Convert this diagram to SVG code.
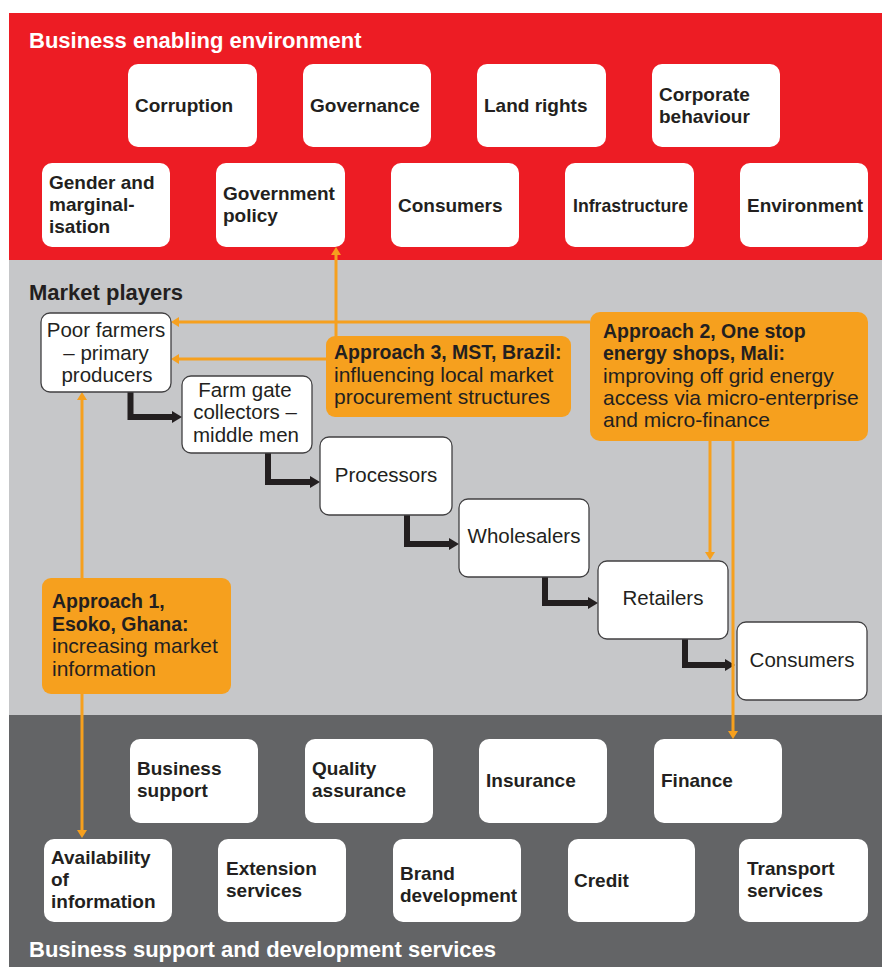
<svg xmlns="http://www.w3.org/2000/svg" width="882" height="967" viewBox="0 0 882 967">
<style>
.band-title{font-family:"Liberation Sans",Arial,sans-serif;font-weight:bold;font-size:22px}
.wbox{fill:#ffffff}
.sbox{fill:#ffffff;stroke:#414042;stroke-width:1.3}
.obox{fill:#f6a01e}
.bt{font-family:"Liberation Sans",Arial,sans-serif;font-weight:bold;font-size:19px;fill:#231f20}
.rt{font-family:"Liberation Sans",Arial,sans-serif;font-size:20.5px;fill:#231f20}
.ot{font-family:"Liberation Sans",Arial,sans-serif;font-size:21px;fill:#231f20}
.ob{font-family:"Liberation Sans",Arial,sans-serif;font-weight:bold;font-size:19.5px;fill:#231f20}
.ct{text-anchor:middle}
.blk{fill:none;stroke:#231f20;stroke-width:6}
.org{fill:none;stroke:#f6a01e;stroke-width:3}
</style>
<defs>
<marker id="ba" viewBox="0 0 10 12" markerWidth="10" markerHeight="12" refX="0" refY="6" orient="auto" markerUnits="userSpaceOnUse"><path d="M0,0 L10,6 L0,12 z" fill="#231f20"/></marker>
<marker id="oa" viewBox="0 0 8 10" markerWidth="8" markerHeight="10" refX="0" refY="5" orient="auto" markerUnits="userSpaceOnUse"><path d="M0,0 L8,5 L0,10 z" fill="#f6a01e"/></marker>
</defs>
<rect x="0" y="0" width="882" height="967" fill="#ffffff"/>
<rect x="9" y="13" width="873" height="247" fill="#ed1c24"/>
<rect x="9" y="260" width="873" height="455" fill="#c6c7c9"/>
<rect x="9" y="715" width="873" height="252" fill="#636466"/>
<text class="band-title" x="29" y="48" fill="#ffffff">Business enabling environment</text>
<text class="band-title" x="29" y="300" fill="#231f20">Market players</text>
<text class="band-title" x="29" y="957" fill="#ffffff">Business support and development services</text>

<g id="connectors">
<path class="blk" d="M130.5,392 V417 H172" marker-end="url(#ba)"/>
<path class="blk" d="M268,453 V482 H310" marker-end="url(#ba)"/>
<path class="blk" d="M407,515 V544 H449" marker-end="url(#ba)"/>
<path class="blk" d="M545,577 V603 H588" marker-end="url(#ba)"/>
<path class="blk" d="M685,639 V665 H725" marker-end="url(#ba)"/>
<path class="org" d="M590,322 H179" marker-end="url(#oa)"/>
<path class="org" d="M326,359 H179" marker-end="url(#oa)"/>
<path class="org" d="M336,336 V255" marker-end="url(#oa)"/>
<path class="org" d="M82,578 V400" marker-end="url(#oa)"/>
<path class="org" d="M82,694 V830" marker-end="url(#oa)"/>
<path class="org" d="M710,441 V552" marker-end="url(#oa)"/>
<path class="org" d="M733,441 V731" marker-end="url(#oa)"/>
</g>

<g id="corruption"><rect class="wbox" x="128" y="64" width="129" height="83" rx="10"/><text class="bt" x="135" y="112">Corruption</text></g>
<g id="governance"><rect class="wbox" x="303" y="64" width="128" height="83" rx="10"/><text class="bt" x="310" y="112">Governance</text></g>
<g id="land-rights"><rect class="wbox" x="477" y="64" width="129" height="83" rx="10"/><text class="bt" x="484" y="112">Land rights</text></g>
<g id="corporate-behaviour"><rect class="wbox" x="652" y="64" width="128" height="83" rx="10"/><text class="bt" x="659" y="101">Corporate</text><text class="bt" x="659" y="123">behaviour</text></g>
<g id="gender"><rect class="wbox" x="42" y="163" width="128" height="84" rx="10"/><text class="bt" x="49" y="189">Gender and</text><text class="bt" x="49" y="211">marginal-</text><text class="bt" x="49" y="233">isation</text></g>
<g id="government-policy"><rect class="wbox" x="216" y="163" width="129" height="84" rx="10"/><text class="bt" x="223" y="200">Government</text><text class="bt" x="223" y="222">policy</text></g>
<g id="consumers-env"><rect class="wbox" x="391" y="163" width="128" height="84" rx="10"/><text class="bt" x="398" y="212">Consumers</text></g>
<g id="infrastructure"><rect class="wbox" x="565" y="163" width="129" height="84" rx="10"/><text class="bt" x="573" y="212" textLength="115" lengthAdjust="spacingAndGlyphs">Infrastructure</text></g>
<g id="environment"><rect class="wbox" x="740" y="163" width="128" height="84" rx="10"/><text class="bt" x="747" y="212">Environment</text></g>

<g id="poor-farmers"><rect class="sbox" x="41" y="313" width="130" height="79" rx="9"/><text class="rt ct" x="106" y="337">Poor farmers</text><text class="rt ct" x="106" y="360">– primary</text><text class="rt ct" x="107" y="382">producers</text></g>
<g id="farm-gate"><rect class="sbox" x="182" y="376" width="130" height="77" rx="9"/><text class="rt ct" x="245" y="397">Farm gate</text><text class="rt ct" x="245" y="419">collectors –</text><text class="rt ct" x="246" y="442">middle men</text></g>
<g id="processors"><rect class="sbox" x="320" y="437" width="132" height="78" rx="9"/><text class="rt ct" x="386" y="482">Processors</text></g>
<g id="wholesalers"><rect class="sbox" x="459" y="499" width="130" height="78" rx="9"/><text class="rt ct" x="524" y="543">Wholesalers</text></g>
<g id="retailers"><rect class="sbox" x="598" y="561" width="130" height="78" rx="9"/><text class="rt ct" x="663" y="605">Retailers</text></g>
<g id="consumers"><rect class="sbox" x="737" y="622" width="130" height="78" rx="9"/><text class="rt ct" x="802" y="667">Consumers</text></g>

<g id="approach-3"><rect class="obox" x="326" y="336" width="245" height="81" rx="9"/><text class="ob" x="334" y="359">Approach 3, MST, Brazil:</text><text class="ot" x="334" y="382">influencing local market</text><text class="ot" x="334" y="404">procurement structures</text></g>
<g id="approach-2"><rect class="obox" x="590" y="312" width="278" height="129" rx="10"/><text class="ob" x="603" y="338">Approach 2, One stop</text><text class="ob" x="603" y="360">energy shops, Mali:</text><text class="ot" x="603" y="383">improving off grid energy</text><text class="ot" x="603" y="405">access via micro-enterprise</text><text class="ot" x="603" y="427">and micro-finance</text></g>
<g id="approach-1"><rect class="obox" x="42" y="578" width="189" height="116" rx="9"/><text class="ob" x="52" y="608">Approach 1,</text><text class="ob" x="52" y="631">Esoko, Ghana:</text><text class="ot" x="52" y="653">increasing market</text><text class="ot" x="52" y="676">information</text></g>

<g id="business-support"><rect class="wbox" x="130" y="739" width="128" height="84" rx="10"/><text class="bt" x="137" y="775">Business</text><text class="bt" x="137" y="797">support</text></g>
<g id="quality-assurance"><rect class="wbox" x="305" y="739" width="128" height="84" rx="10"/><text class="bt" x="312" y="775">Quality</text><text class="bt" x="312" y="797">assurance</text></g>
<g id="insurance"><rect class="wbox" x="479" y="739" width="128" height="84" rx="10"/><text class="bt" x="486" y="787">Insurance</text></g>
<g id="finance"><rect class="wbox" x="654" y="739" width="128" height="84" rx="10"/><text class="bt" x="661" y="787">Finance</text></g>
<g id="availability"><rect class="wbox" x="44" y="839" width="128" height="83" rx="10"/><text class="bt" x="51" y="864">Availability</text><text class="bt" x="51" y="886">of</text><text class="bt" x="51" y="908">information</text></g>
<g id="extension"><rect class="wbox" x="218" y="839" width="128" height="83" rx="10"/><text class="bt" x="226" y="875">Extension</text><text class="bt" x="226" y="897">services</text></g>
<g id="brand"><rect class="wbox" x="393" y="839" width="128" height="83" rx="10"/><text class="bt" x="400" y="880">Brand</text><text class="bt" x="400" y="902">development</text></g>
<g id="credit"><rect class="wbox" x="568" y="839" width="127" height="83" rx="10"/><text class="bt" x="574" y="887">Credit</text></g>
<g id="transport"><rect class="wbox" x="739" y="839" width="129" height="83" rx="10"/><text class="bt" x="747" y="875">Transport</text><text class="bt" x="747" y="897">services</text></g>
</svg>
